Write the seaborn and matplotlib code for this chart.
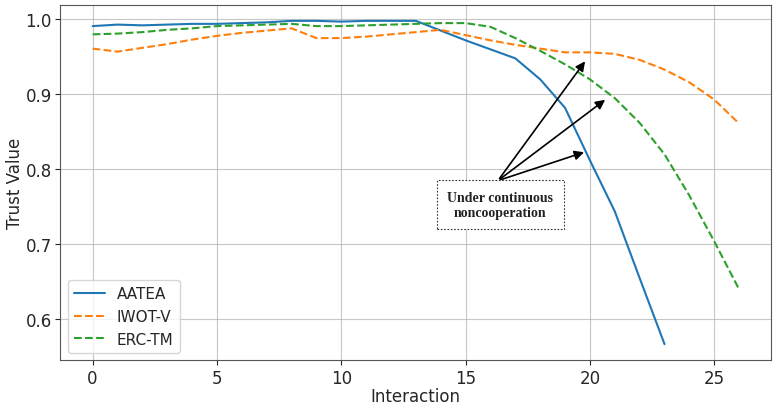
import matplotlib
matplotlib.use("Agg")
import matplotlib.pyplot as plt
import seaborn as sns

# ─── Data ─────────────────────────────────────────────────────────────────────
aatea_x = list(range(0, 24))
aatea_y = [0.991, 0.993, 0.992, 0.993, 0.994, 0.994, 0.995, 0.996, 0.998, 0.998,
           0.997, 0.998, 0.998, 0.998, 0.985, 0.972, 0.960, 0.948, 0.920, 0.882,
           0.812, 0.744, 0.655, 0.567]

iwot_x = list(range(0, 27))
iwot_y = [0.961, 0.957, 0.962, 0.967, 0.973, 0.978, 0.982, 0.985, 0.988, 0.975,
          0.975, 0.977, 0.980, 0.983, 0.986, 0.979, 0.972, 0.966, 0.961, 0.956,
          0.956, 0.954, 0.946, 0.933, 0.916, 0.893, 0.861]

erc_x = list(range(0, 27))
erc_y = [0.980, 0.981, 0.983, 0.986, 0.988, 0.991, 0.992, 0.993, 0.994, 0.991,
         0.991, 0.992, 0.993, 0.994, 0.995, 0.995, 0.990, 0.975, 0.958, 0.940,
         0.920, 0.895, 0.862, 0.820, 0.765, 0.704, 0.640]

note_text = "Under continuous\nnoncooperation"
note_xy = (16.4, 0.753)
arrow_from = (16.3, 0.785)
arrow_targets = [(19.87, 0.947), (20.7, 0.895), (19.87, 0.824)]

# ─── Plot ─────────────────────────────────────────────────────────────────────
sns.set_style("ticks")
fig, ax = plt.subplots(figsize=(7.73, 4.06), dpi=100)
fig.subplots_adjust(left=0.078, right=0.998, top=0.986, bottom=0.11)

sns.lineplot(x=aatea_x, y=aatea_y, color="#1f77b4", linewidth=1.5, label="AATEA", ax=ax)
sns.lineplot(x=iwot_x, y=iwot_y, color="#ff7f0e", linewidth=1.5, linestyle="--", label="IWOT-V", ax=ax)
sns.lineplot(x=erc_x, y=erc_y, color="#2ca02c", linewidth=1.5, linestyle="--", label="ERC-TM", ax=ax)

ax.grid(True, color="#b0b0b0", linewidth=0.8, alpha=0.7)
for s in ax.spines.values():
    s.set_color("#555555")
ax.set_xlabel("Interaction", fontsize=12, labelpad=0)
ax.set_ylabel("Trust Value", fontsize=12, labelpad=1)
ax.tick_params(labelsize=12, length=3.5, pad=2.5)
ax.set_xticks([0, 5, 10, 15, 20, 25])
ax.set_yticks([0.6, 0.7, 0.8, 0.9, 1.0])

for tx, ty in arrow_targets:
    ax.annotate("", xy=(tx, ty), xytext=arrow_from,
                arrowprops=dict(arrowstyle="-|>", color="black", lw=1.2, mutation_scale=14))
ax.text(note_xy[0], note_xy[1], note_text, ha="center", va="center",
        family="Liberation Serif", fontweight="bold", fontsize=10, color="#222222",
        linespacing=1.2,
        bbox=dict(boxstyle="square,pad=0.75", facecolor="white", edgecolor="#333333",
                  linestyle=(0, (1.5, 1.5)), linewidth=0.8))

ax.legend(loc="lower left", fontsize=11)

plt.savefig("out.png", dpi=100)
plt.close()
